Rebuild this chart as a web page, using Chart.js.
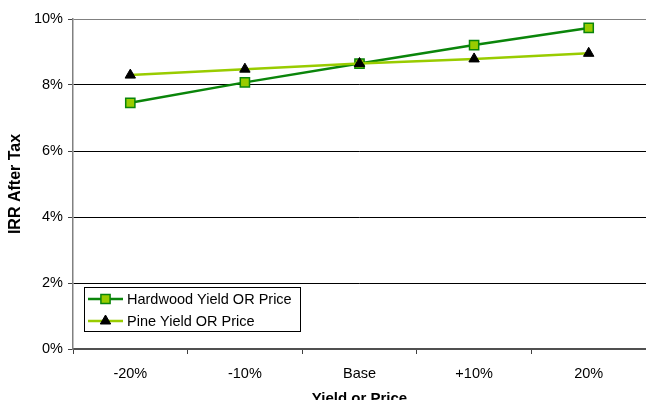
<!DOCTYPE html>
<html>
<head>
<meta charset="utf-8">
<script src="https://cdn.jsdelivr.net/npm/chart.js@4/dist/chart.umd.min.js"></script>
<style>
    body { margin: 0; background: #fff; }
    #wrap { width: 646px; height: 400px; }
</style>
</head>
<body>
<div id="wrap"><canvas id="irrChart" width="646" height="400"></canvas></div>
<script>
const categories = ['-20%', '-10%', 'Base', '+10%', '20%'];
const hardwoodValues = [7.46, 8.08, 8.65, 9.21, 9.73];
const pineValues = [8.30, 8.48, 8.65, 8.79, 8.96];
const yTicks = [0, 2, 4, 6, 8, 10];

const FONT = '"Liberation Sans", Arial, sans-serif';

// legend sits inside the plot, bottom-left, like the original
const boxLegend = {
    id: 'boxLegend',
    afterDatasetsDraw(chart) {
        const ctx = chart.ctx;
        const items = chart.data.datasets;
        const x0 = 84, y0 = 287, w = 216, h = 44;
        ctx.save();
        ctx.fillStyle = '#fff';
        ctx.fillRect(x0, y0, w, h);
        ctx.strokeStyle = '#000';
        ctx.lineWidth = 1;
        ctx.strokeRect(x0 + 0.5, y0 + 0.5, w, h);

        items.forEach((ds, i) => {
            const y = y0 + 12 + i * 22;
            ctx.strokeStyle = ds.borderColor;
            ctx.lineWidth = ds.borderWidth;
            ctx.beginPath();
            ctx.moveTo(88, y);
            ctx.lineTo(123, y);
            ctx.stroke();

            ctx.fillStyle = ds.pointBackgroundColor;
            ctx.strokeStyle = ds.pointBorderColor;
            ctx.lineWidth = ds.pointBorderWidth;
            Chart.helpers.drawPoint(ctx, {
                pointStyle: ds.pointStyle,
                radius: ds.pointRadius,
                borderWidth: ds.pointBorderWidth
            }, 105.5, y);

            ctx.fillStyle = '#000';
            ctx.font = '14.5px ' + FONT;
            ctx.textBaseline = 'middle';
            ctx.textAlign = 'left';
            ctx.fillText(ds.label, 127, y + 1);
        });
        ctx.restore();
    }
};

new Chart(document.getElementById('irrChart'), {
    type: 'line',
    data: {
        labels: categories,
        datasets: [
            {
                label: 'Hardwood Yield OR Price',
                data: hardwoodValues,
                order: 2,
                borderColor: '#0a850a',
                borderWidth: 2.5,
                pointStyle: 'rect',
                pointRadius: 6.5,
                pointHoverRadius: 6.5,
                pointBackgroundColor: '#99cc00',
                pointBorderColor: '#0a850a',
                pointBorderWidth: 1.5,
                tension: 0
            },
            {
                label: 'Pine Yield OR Price',
                data: pineValues,
                order: 1,
                borderColor: '#99cc00',
                borderWidth: 2.5,
                pointStyle: 'triangle',
                pointRadius: 6,
                pointHoverRadius: 6,
                pointBackgroundColor: '#000',
                pointBorderColor: '#000',
                pointBorderWidth: 1,
                tension: 0
            }
        ]
    },
    options: {
        responsive: false,
        animation: false,
        layout: {
            autoPadding: false,
            padding: { top: 19, right: 0, bottom: 0, left: 0 }
        },
        plugins: {
            legend: { display: false },
            tooltip: { enabled: false }
        },
        scales: {
            x: {
                offset: true,
                afterFit: (scale) => {
                    scale.height = 51;
                    scale.paddingLeft = 0;
                    scale.paddingRight = 0;
                },
                grid: {
                    offset: true,
                    drawOnChartArea: false,
                    drawTicks: true,
                    tickLength: 5,
                    tickColor: '#404040'
                },
                border: { color: '#505050', width: 2 },
                ticks: {
                    color: '#000',
                    padding: 11,
                    maxRotation: 0,
                    font: { family: FONT, size: 14.5 }
                },
                title: {
                    display: true,
                    text: 'Yield or Price',
                    color: '#000',
                    padding: { top: 0, bottom: -8 },
                    font: { family: FONT, size: 15, weight: 'bold' }
                }
            },
            y: {
                min: 0,
                max: 10,
                afterFit: (scale) => {
                    scale.width = 73;
                    scale.paddingTop = 0;
                    scale.paddingBottom = 0;
                },
                afterBuildTicks: (scale) => {
                    scale.ticks = yTicks.map(v => ({ value: v }));
                },
                grid: {
                    color: (c) => {
                        if (c.tick.value === 10) return '#808080';
                        if (c.tick.value === 0) return 'rgba(0,0,0,0)';
                        return '#000';
                    },
                    lineWidth: 1,
                    tickLength: 5,
                    tickColor: '#404040'
                },
                border: { color: '#808080', width: 1.5 },
                ticks: {
                    color: '#000',
                    padding: 5,
                    font: { family: FONT, size: 14.5 },
                    callback: (value) => `${value}%`
                },
                title: {
                    display: true,
                    text: 'IRR After Tax',
                    color: '#000',
                    padding: { top: 6, bottom: 0 },
                    font: { family: FONT, size: 16, weight: 'bold' }
                }
            }
        }
    },
    plugins: [boxLegend]
});
</script>
</body>
</html>
